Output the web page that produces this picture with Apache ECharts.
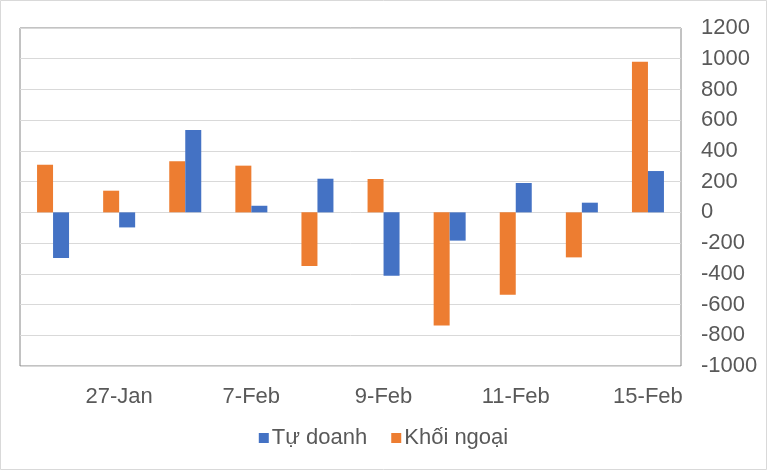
<!DOCTYPE html>
<html>
<head>
<meta charset="utf-8">
<script src="https://cdn.jsdelivr.net/npm/echarts@6/dist/echarts.min.js"></script>
<style>html,body{margin:0;padding:0;background:#fff}#c{width:767px;height:470px}</style>
</head>
<body>
<div id="c"></div>
<script>
var categories = ['26-Jan','27-Jan','28-Jan','7-Feb','8-Feb','9-Feb','10-Feb','11-Feb','14-Feb','15-Feb'];
var khoiNgoai = [310, 141, 332, 304, -349, 217, -736, -536, -293, 981];
var tuDoanh = [-297, -98, 536, 43, 219, -412, -184, 191, 63, 269];
var yTicks = { min: -1000, max: 1200, step: 200 };

var FONT = '"Liberation Sans", Arial, sans-serif';
var chart = echarts.init(document.getElementById('c'), null, { renderer: 'canvas' });
chart.setOption({
  animation: false,
  backgroundColor: '#ffffff',
  textStyle: { fontFamily: FONT },
  graphic: [{
    type: 'rect', shape: { x: 0.5, y: 0.5, width: 766, height: 469 },
    style: { fill: 'none', stroke: '#d9d9d9', lineWidth: 1 }, silent: true, z: -1
  }],
  grid: { left: 20, right: 86, top: 28, bottom: 104, show: true, borderColor: '#868686', borderWidth: 1, backgroundColor: 'transparent' },
  legend: {
    bottom: 16, left: 'center',
    data: ['Tự doanh', 'Khối ngoại'],
    icon: 'rect', itemWidth: 10, itemHeight: 10, itemGap: 24,
    textStyle: { fontSize: 22, color: '#595959', fontFamily: FONT, padding: [0, 0, 0, -2] }
  },
  xAxis: {
    type: 'category', data: categories,
    axisLine: { show: false }, axisTick: { show: false },
    axisLabel: {
      interval: function (i) { return i % 2 === 1; },
      fontSize: 22, color: '#595959', margin: 20, fontFamily: FONT
    },
    splitLine: { show: false }
  },
  yAxis: {
    type: 'value', position: 'right',
    min: yTicks.min, max: yTicks.max, interval: yTicks.step,
    axisLine: { show: false }, axisTick: { show: false },
    axisLabel: { fontSize: 22, color: '#595959', margin: 20, align: 'left', fontFamily: FONT,
      formatter: function (v) { return String(v); } },
    splitLine: { lineStyle: { color: '#d9d9d9', width: 1 } }
  },
  series: [
    { name: 'Khối ngoại', type: 'bar', data: khoiNgoai, barWidth: 16, barGap: '0%', itemStyle: { color: '#ED7D31' } },
    { name: 'Tự doanh', type: 'bar', data: tuDoanh, barWidth: 16, barGap: '0%', itemStyle: { color: '#4472C4' } }
  ]
});
</script>
</body>
</html>
